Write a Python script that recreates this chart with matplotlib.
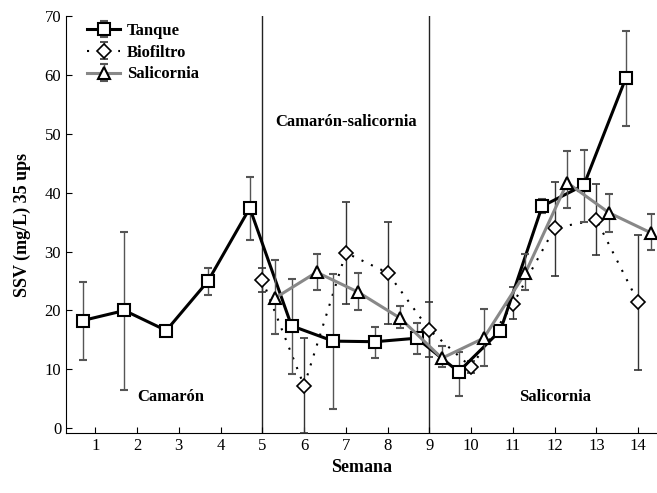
import numpy as np
import matplotlib
matplotlib.use("Agg")
import matplotlib.pyplot as plt

# Semana (cada serie va desplazada un poco en x, como en el original)
tanque_x = [0.7, 1.7, 2.7, 3.7, 4.7, 5.7, 6.7, 7.7, 8.7, 9.7, 10.7, 11.7, 12.7, 13.7]
tanque_y = [18.3, 20.0, 16.6, 25.0, 37.4, 17.4, 14.8, 14.7, 15.3, 9.6, 16.6, 37.7, 41.3, 59.4]
tanque_lo = [11.6, 6.5, 16.6, 22.7, 31.9, 9.2, 3.3, 11.9, 12.6, 5.5, 16.6, 36.5, 35.0, 51.3]
tanque_hi = [24.9, 33.4, 16.6, 27.2, 42.7, 25.3, 26.2, 17.2, 17.9, 13.0, 16.6, 38.9, 47.2, 67.5]

bio_x = [5, 6, 7, 8, 9, 10, 11, 12, 13, 14]
bio_y = [25.2, 7.2, 29.8, 26.4, 16.7, 10.4, 21.1, 34.0, 35.4, 21.4]
bio_lo = [23.1, -0.8, 21.1, 17.7, 12.1, 9.4, 18.6, 25.9, 29.4, 9.9]
bio_hi = [27.2, 15.3, 38.4, 35.1, 21.4, 11.4, 24.0, 41.9, 41.5, 32.9]

sal_x = [5.3, 6.3, 7.3, 8.3, 9.3, 10.3, 11.3, 12.3, 13.3, 14.3]
sal_y = [22.1, 26.5, 23.1, 18.7, 11.9, 15.3, 26.4, 41.7, 36.6, 33.2]
sal_lo = [16.0, 23.5, 20.1, 17.0, 10.4, 10.6, 23.4, 37.4, 33.4, 30.2]
sal_hi = [28.6, 29.6, 26.4, 20.7, 13.9, 20.3, 29.6, 47.0, 39.7, 36.4]

fases = [5, 9]
rotulos = [("Camarón", 2.8, 5.3), ("Camarón-salicornia", 7.0, 52.0), ("Salicornia", 12.0, 5.3)]

plt.rcParams['font.family'] = ['Liberation Serif', 'DejaVu Serif']


def yerr(y, lo, hi):
    y = np.array(y)
    return [y - np.array(lo), np.array(hi) - y]


fig = plt.figure(figsize=(6.57, 4.93), dpi=100)
ax = fig.add_axes([0.1005, 0.1217, 0.8995, 0.8458])

for f in fases:
    ax.axvline(f, color='#222222', lw=1.0, zorder=1)

ax.errorbar(tanque_x, tanque_y, yerr=yerr(tanque_y, tanque_lo, tanque_hi),
            color='black', lw=2.2, marker='s', ms=8, mfc='white', mec='black', mew=1.5,
            ecolor='#555555', elinewidth=1.0, capsize=3, label='Tanque', zorder=4)
ax.errorbar(bio_x, bio_y, yerr=yerr(bio_y, bio_lo, bio_hi),
            color='black', lw=1.5, ls=(0, (1, 4)), marker='D', ms=7, mfc='white', mec='black',
            mew=1.2, ecolor='#333333', elinewidth=1.0, capsize=3, label='Biofiltro', zorder=3)
ax.errorbar(sal_x, sal_y, yerr=yerr(sal_y, sal_lo, sal_hi),
            color='#888888', lw=2.2, marker='^', ms=9, mfc='white', mec='black', mew=1.5,
            ecolor='#555555', elinewidth=1.0, capsize=3, label='Salicornia', zorder=5)

for txt, x, y in rotulos:
    ax.text(x, y, txt, ha='center', va='center', fontsize=12, fontweight='bold')

ax.set_xlim(0.3, 14.45)
ax.set_ylim(-0.8, 70)
ax.set_xticks(range(1, 15))
ax.set_yticks(range(0, 71, 10))
ax.tick_params(direction='in', length=4, labelsize=12)
ax.spines['top'].set_visible(False)
ax.spines['right'].set_visible(False)
ax.set_xlabel('Semana', fontsize=13, fontweight='bold')
ax.set_ylabel('SSV (mg/L) 35 ups', fontsize=13, fontweight='bold', labelpad=10)

leg = ax.legend(loc='upper left', bbox_to_anchor=(0.01, 1.02), frameon=False,
                prop={'weight': 'bold', 'size': 12}, handlelength=2.0,
                labelspacing=0.35, handletextpad=0.4)

fig.savefig('out.png', dpi=100)
